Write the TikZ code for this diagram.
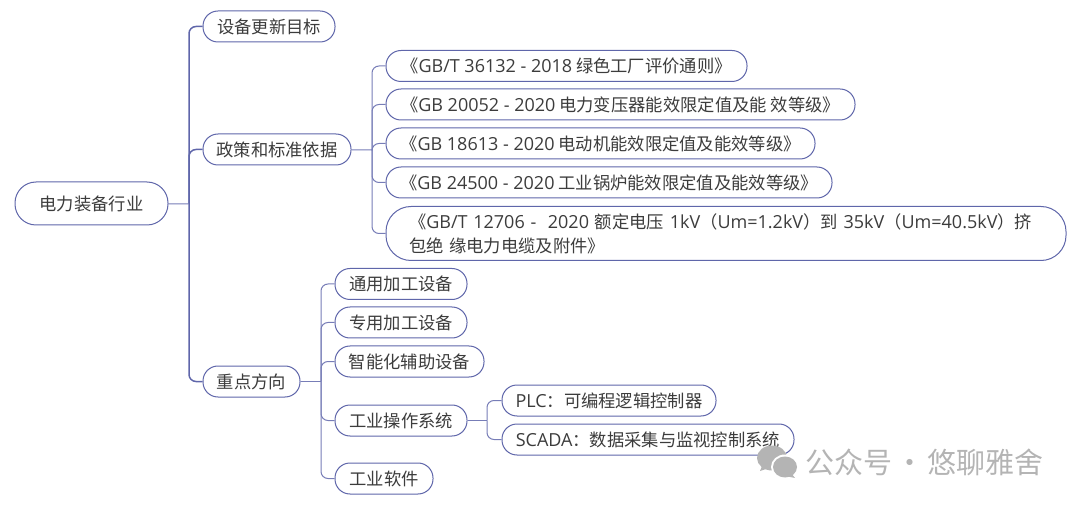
\documentclass[tikz,border=0pt]{standalone}
\usepackage{fontspec}
\setmainfont{Noto Sans CJK SC}
\newfontfamily\westface[Scale=1.04]{Open Sans}
\newcommand{\wt}[1]{{\westface #1}}
\definecolor{linkblue}{HTML}{5F66AA}
\definecolor{inktext}{HTML}{3C3C3C}
\definecolor{markgray}{HTML}{B4B4B4}
\tikzset{
	topic/.style={draw=linkblue,line width=1pt,fill=white,rounded corners=15pt,minimum height=31pt,inner sep=0pt,text=inktext,text height=18pt,text depth=4pt,font=\fontsize{17.3}{24}\selectfont},
	branch/.style={to path={|- (\tikztotarget.west)}},
	stem/.style={to path={-- (\tikztotarget)}}
}
\begin{document}
\begin{tikzpicture}[x=1pt,y=-1pt]
	\useasboundingbox (0,0) rectangle (1080,505);
	% trunk points
	\coordinate (rootfork) at (189,204);
	\coordinate (policyfork) at (372,150);
	\coordinate (focusfork) at (321,381.5);
	\coordinate (opsfork) at (487,420.5);
	\begin{scope}[every node/.style={topic}]
	\node[minimum width=153pt,minimum height=43pt,rounded corners=21pt] (root) at (91.5,203.5) {电力装备行业};
	\node[minimum width=132pt] (goal) at (269,26.5) {设备更新目标};
	\node[minimum width=148pt] (policy) at (277,149.5) {政策和标准依据};
	\node[minimum width=97pt] (focus) at (251.5,381.5) {重点方向};
	% standards
	\node[minimum width=361pt] (stda) at (566.5,66) {《\wt{GB/T 36132 - 2018} 绿色工厂评价通则》};
	\node[minimum width=469pt] (stdb) at (620.5,104.5) {《\wt{GB 20052 - 2020} 电力变压器能效限定值及能 效等级》};
	\node[minimum width=429pt] (stdc) at (600.5,143.5) {《\wt{GB 18613 - 2020} 电动机能效限定值及能效等级》};
	\node[minimum width=446pt] (stdd) at (609,182.5) {《\wt{GB 24500 - 2020} 工业锅炉能效限定值及能效等级》};
	\node[minimum width=680pt,minimum height=54pt,rounded corners=25pt,text width=634pt,align=left,text height=,text depth=] (stde) at (726,233.5) {《\wt{GB/T 12706 -~ 2020} 额定电压 \wt{1kV}（\wt{Um=1.2kV}）到 \wt{35kV}（\wt{Um=40.5kV}）挤\\包绝 缘电力电缆及附件》};
	% focus areas
	\node[minimum width=132pt] (general) at (401,284) {通用加工设备};
	\node[minimum width=132pt] (special) at (401,322.5) {专用加工设备};
	\node[minimum width=149pt] (smart) at (409.5,361.5) {智能化辅助设备};
	\node[minimum width=132pt] (ops) at (401,420.5) {工业操作系统};
	\node[minimum width=98pt] (soft) at (384,478.5) {工业软件};
	\node[minimum width=214pt] (plc) at (609,400.5) {\wt{PLC}：可编程逻辑控制器};
	\node[minimum width=292pt] (scada) at (648,439.5) {\wt{SCADA}：数据采集与监视控制系统};
	\end{scope}
	\begin{scope}[every edge/.style={draw=linkblue,line width=1.5pt,rounded corners=7pt}]
	\path (rootfork) edge[branch] (goal);
	\path (rootfork) edge[branch] (policy);
	\path (rootfork) edge[branch] (focus);
	\end{scope}
	\begin{scope}[every edge/.style={draw=linkblue!85,line width=1pt,rounded corners=7pt}]
	\path (root) edge[stem] (rootfork);
	\path (policy) edge[stem] (policyfork);
	\path (focus) edge[stem] (focusfork);
	\path (ops) edge[stem] (opsfork);
	\path (policyfork) edge[branch] (stda);
	\path (policyfork) edge[branch] (stdb);
	\path (policyfork) edge[branch] (stdc);
	\path (policyfork) edge[branch] (stdd);
	\path (policyfork) edge[branch] (stde);
	\path (focusfork) edge[branch] (general);
	\path (focusfork) edge[branch] (special);
	\path (focusfork) edge[branch] (smart);
	\path (focusfork) edge[branch] (ops);
	\path (focusfork) edge[branch] (soft);
	\path (opsfork) edge[branch] (plc);
	\path (opsfork) edge[branch] (scada);
	\end{scope}
	% watermark
	\fill[markgray] (772,458) ellipse (15pt and 12.5pt);
	\fill[markgray] (762,466) -- (760,471) -- (769,468) -- cycle;
	\fill[white] (785,467) ellipse (14pt and 12.5pt);
	\fill[markgray] (785,467) ellipse (12pt and 10.5pt);
	\fill[markgray] (791,473) -- (795,478) -- (785,476) -- cycle;
	\node[text=markgray,font=\fontsize{29}{29}\selectfont,anchor=west,inner sep=0pt] (mark) at (805,462) {公众号\hspace{-3.5pt} · \hspace{-3.5pt}悠聊雅舍};
\end{tikzpicture}
\end{document}
